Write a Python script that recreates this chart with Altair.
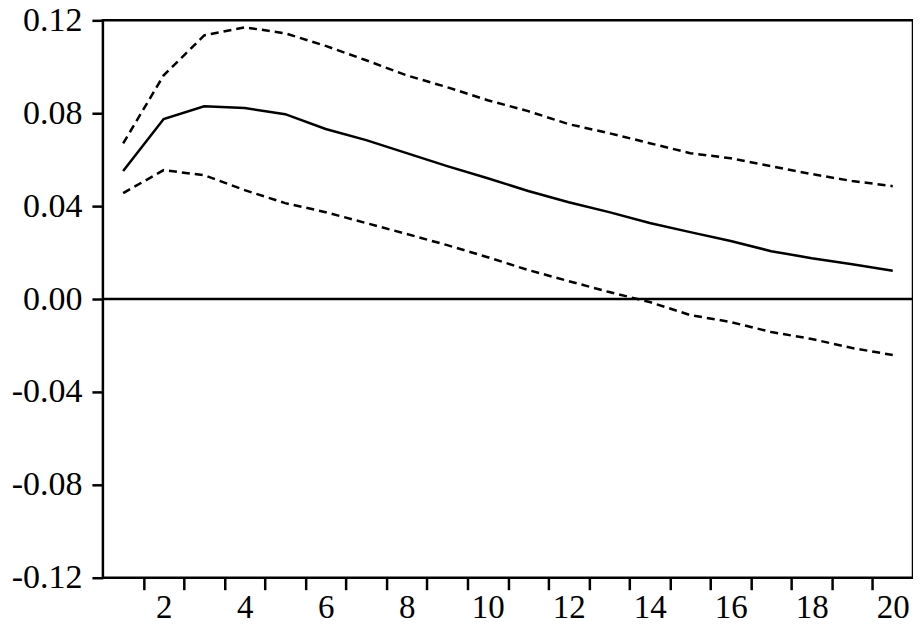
import altair as alt
import pandas as pd

periods = list(range(1, 21))
response = [0.0551, 0.0775, 0.0830, 0.0822, 0.0796, 0.0732, 0.0684, 0.0628, 0.0572, 0.0520,
            0.0465, 0.0417, 0.0374, 0.0327, 0.0288, 0.0250, 0.0206, 0.0176, 0.0150, 0.0122]
upper = [0.0670, 0.0963, 0.1135, 0.1170, 0.1144, 0.1090, 0.1028, 0.0963, 0.0912, 0.0856,
         0.0809, 0.0753, 0.0714, 0.0671, 0.0628, 0.0606, 0.0572, 0.0538, 0.0508, 0.0486]
lower = [0.0456, 0.0555, 0.0533, 0.0469, 0.0413, 0.0374, 0.0327, 0.0280, 0.0232, 0.0180,
         0.0125, 0.0077, 0.0030, -0.0013, -0.0069, -0.0099, -0.0142, -0.0172, -0.0211, -0.0241]

y_ticks = [-0.12, -0.08, -0.04, 0.0, 0.04, 0.08, 0.12]
x_boundaries = [i + 0.5 for i in range(1, 20)]
x_labels = list(range(2, 21, 2))

rows = []
for p, r, u, l in zip(periods, response, upper, lower):
    rows.append({"period": p, "value": r, "series": "response"})
    rows.append({"period": p, "value": u, "series": "upper"})
    rows.append({"period": p, "value": l, "series": "lower"})
df = pd.DataFrame(rows)

FONT = "'Liberation Serif', 'Times New Roman', Tinos, Times, serif"

x_scale = alt.Scale(domain=[0.5, 20.5], nice=False, zero=False)
y_scale = alt.Scale(domain=[-0.12, 0.12], nice=False)

# axis carrying the labels (no visible ticks)
x_axis_labels = alt.Axis(
    values=x_labels, orient="bottom", format="d",
    title=None, domain=False, grid=False, labelOverlap=False, labelFlush=False,
    ticks=True, tickSize=12, tickOpacity=0, labelPadding=2,
    labelFont=FONT, labelFontSize=33, labelColor="black",
)
# axis carrying the period-boundary ticks (no labels)
x_axis_ticks = alt.Axis(
    values=x_boundaries, orient="bottom", labels=False,
    title=None, domain=False, grid=False,
    tickSize=12, tickWidth=2.5, tickColor="black",
)
y_axis = alt.Axis(
    values=y_ticks, orient="left",
    labelExpr="(datum.value < -0.0001 ? '-' : '') + format(abs(datum.value), '.2f')",
    title=None, domain=False, grid=False, labelOverlap=False, labelFlush=False,
    tickSize=11, tickWidth=2.5, tickColor="black", labelPadding=10,
    labelFont=FONT, labelFontSize=34, labelColor="black",
)

base = alt.Chart(df)

center = base.transform_filter(alt.datum.series == "response").mark_line(
    color="black", strokeWidth=2.5
).encode(
    x=alt.X("period:Q", scale=x_scale, axis=x_axis_labels),
    y=alt.Y("value:Q", scale=y_scale, axis=y_axis),
)

bands = base.transform_filter(alt.datum.series != "response").mark_line(
    color="black", strokeWidth=2.5, strokeDash=[8, 5]
).encode(
    x=alt.X("period:Q", scale=x_scale, axis=x_axis_ticks),
    y=alt.Y("value:Q", scale=y_scale, axis=y_axis),
    detail="series:N",
)

zero = alt.Chart(pd.DataFrame({"v": [0.0]})).mark_rule(color="black", strokeWidth=2.5).encode(
    y=alt.Y("v:Q", scale=y_scale, axis=y_axis)
)

chart = alt.layer(zero, bands, center).resolve_axis(x="independent").properties(
    width=811, height=558,
    autosize=alt.AutoSizeParams(type="none"),
    padding={"left": 95, "top": 12, "right": 0, "bottom": 47},
    background="white",
).configure_view(stroke="black", strokeWidth=2.5)

chart.save("out.html", embed_options={"renderer": "svg", "actions": False})
